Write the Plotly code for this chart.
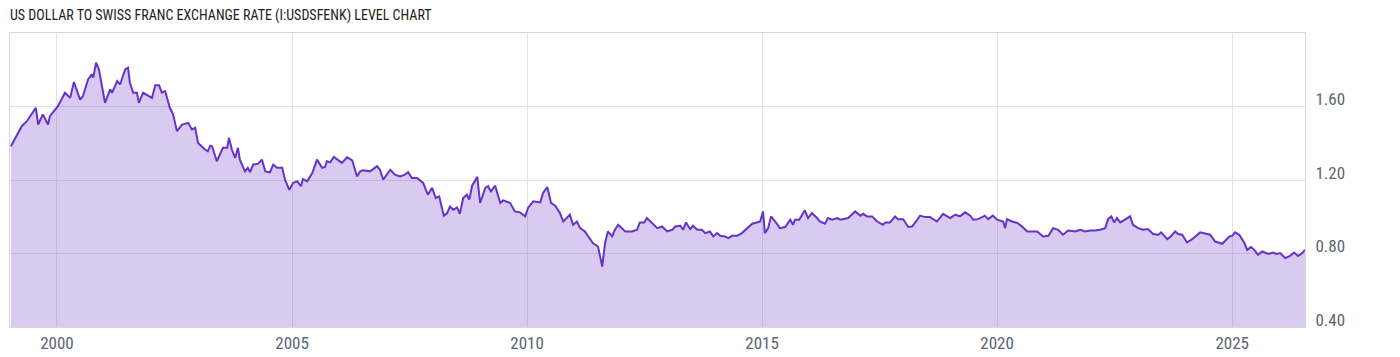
import plotly.graph_objects as go
import pandas as pd

# decimal-year dates and USD/CHF level values
years = [
1999.02,1999.11,1999.25,1999.36,1999.49,1999.55,1999.60,1999.70,1999.81,1999.85,
2000.02,2000.11,2000.17,2000.28,2000.36,2000.49,2000.55,2000.66,2000.74,2000.77,2000.83,2000.89,
2001.02,2001.13,2001.17,2001.28,2001.34,2001.45,2001.51,2001.55,2001.62,2001.70,2001.74,2001.83,2001.94,
2002.02,2002.09,2002.17,2002.23,2002.30,2002.40,2002.47,2002.55,2002.66,2002.79,2002.87,2002.94,
2003.00,2003.15,2003.21,2003.26,2003.30,2003.40,2003.53,2003.62,2003.66,2003.72,2003.79,2003.85,2003.89,
2004.00,2004.06,2004.11,2004.17,2004.28,2004.36,2004.43,2004.53,2004.60,2004.68,2004.79,2004.85,2004.94,
2005.02,2005.11,2005.19,2005.23,2005.32,2005.43,2005.53,2005.64,2005.70,2005.74,2005.81,2005.89,2005.98,
2006.06,2006.17,2006.28,2006.38,2006.45,2006.51,2006.66,2006.81,2006.87,2006.94,
2007.02,2007.09,2007.19,2007.30,2007.40,2007.47,2007.55,2007.66,2007.79,2007.89,2007.98,
2008.06,2008.13,2008.23,2008.30,2008.36,2008.43,2008.51,2008.57,2008.64,2008.72,2008.77,2008.83,2008.94,
2009.00,2009.11,2009.17,2009.23,2009.32,2009.43,2009.49,2009.64,2009.74,2009.85,2009.96,
2010.02,2010.13,2010.28,2010.34,2010.43,2010.51,2010.60,2010.70,2010.77,2010.91,2010.98,
2011.06,2011.13,2011.23,2011.34,2011.40,2011.51,2011.60,2011.66,2011.72,2011.81,2011.87,2011.94,
2012.02,2012.09,2012.23,2012.34,2012.40,2012.49,2012.55,2012.66,2012.77,2012.87,2012.98,
2013.09,2013.15,2013.26,2013.32,2013.38,2013.47,2013.53,2013.62,2013.72,2013.79,2013.89,2013.96,
2014.04,2014.11,2014.21,2014.28,2014.36,2014.47,2014.57,2014.68,2014.79,2014.89,2014.96,
2015.02,2015.06,2015.13,2015.19,2015.28,2015.38,2015.49,2015.60,2015.66,2015.70,2015.79,2015.91,2015.98,
2016.06,2016.17,2016.23,2016.34,2016.40,2016.49,2016.60,2016.66,2016.83,2016.98,
2017.09,2017.15,2017.23,2017.34,2017.45,2017.57,2017.62,2017.72,2017.83,2017.89,
2018.00,2018.11,2018.19,2018.26,2018.36,2018.47,2018.57,2018.72,2018.85,
2019.00,2019.11,2019.21,2019.32,2019.43,2019.49,2019.60,2019.74,2019.81,2019.91,
2020.00,2020.13,2020.17,2020.21,2020.32,2020.43,2020.53,2020.64,2020.74,2020.85,2020.98,
2021.09,2021.19,2021.30,2021.40,2021.51,2021.66,2021.77,2021.87,2021.98,
2022.09,2022.19,2022.30,2022.36,2022.43,2022.49,2022.55,2022.62,2022.72,2022.83,2022.89,
2023.00,2023.11,2023.21,2023.32,2023.43,2023.49,2023.62,2023.68,2023.79,2023.85,2023.94,
2024.04,2024.15,2024.32,2024.43,2024.53,2024.64,2024.79,2024.94,
2025.00,2025.06,2025.15,2025.26,2025.32,2025.40,2025.47,2025.55,2025.64,2025.77,2025.87,2025.94,
2026.02,2026.13,2026.23,2026.32,2026.40,2026.47,2026.55,
]
rates = [
1.384,1.43,1.493,1.52,1.575,1.593,1.502,1.557,1.502,1.547,
1.602,1.647,1.675,1.647,1.733,1.638,1.656,1.747,1.775,1.757,1.839,1.802,
1.62,1.693,1.675,1.738,1.72,1.802,1.811,1.729,1.675,1.675,1.62,1.675,1.656,
1.647,1.715,1.715,1.675,1.684,1.593,1.557,1.466,1.502,1.511,1.475,1.484,
1.402,1.366,1.356,1.387,1.384,1.302,1.375,1.375,1.429,1.366,1.32,1.375,1.311,
1.247,1.266,1.242,1.284,1.289,1.311,1.247,1.242,1.284,1.266,1.266,1.202,1.147,
1.184,1.193,1.166,1.206,1.193,1.238,1.311,1.266,1.271,1.302,1.296,1.326,1.311,
1.293,1.324,1.307,1.22,1.247,1.253,1.247,1.275,1.256,1.202,
1.229,1.256,1.229,1.22,1.229,1.242,1.211,1.211,1.184,1.12,1.157,
1.102,1.111,1.006,1.02,1.056,1.038,1.051,1.016,1.102,1.12,1.093,1.169,1.217,
1.075,1.157,1.166,1.138,1.169,1.075,1.089,1.075,1.029,1.024,1.002,
1.048,1.084,1.078,1.129,1.162,1.075,1.06,1.02,0.974,1.011,0.956,
0.974,0.938,0.92,0.875,0.857,0.838,0.729,0.857,0.92,0.893,0.929,0.956,
0.938,0.92,0.92,0.929,0.969,0.969,0.993,0.966,0.938,0.947,0.92,
0.929,0.947,0.951,0.929,0.969,0.933,0.951,0.929,0.929,0.911,0.92,0.893,
0.911,0.896,0.893,0.884,0.896,0.896,0.911,0.938,0.962,0.969,0.974,
1.029,0.911,0.938,1.002,0.974,0.938,0.944,0.984,0.956,0.984,0.984,1.035,0.993,
1.02,0.993,0.974,0.962,0.993,0.984,0.993,0.984,0.993,1.029,
1.006,1.016,1.002,1.002,0.974,0.956,0.969,0.969,1.002,0.987,
0.987,0.944,0.947,0.969,1.006,0.998,0.998,0.974,1.016,
0.993,1.011,1.002,1.024,1.006,0.984,0.987,1.006,0.987,1.006,
0.984,0.974,0.938,0.987,0.974,0.966,0.947,0.92,0.92,0.92,0.893,
0.896,0.938,0.929,0.902,0.925,0.92,0.929,0.92,0.925,
0.925,0.929,0.938,0.987,1.002,0.969,0.993,0.969,0.984,1.002,0.956,
0.938,0.929,0.933,0.906,0.902,0.915,0.878,0.889,0.92,0.906,0.902,
0.86,0.878,0.915,0.906,0.902,0.865,0.853,0.893,
0.896,0.915,0.902,0.857,0.82,0.835,0.82,0.793,0.811,0.798,0.805,0.798,
0.802,0.775,0.787,0.805,0.787,0.798,0.82,
]

y_ticks = [0.40, 0.80, 1.20, 1.60]
y_tick_text = ["0.40", "0.80", "1.20", "1.60"]
x_tick_years = [2000, 2005, 2010, 2015, 2020, 2025]


def to_date(y):
    yr = int(y)
    start = pd.Timestamp(year=yr, month=1, day=1)
    end = pd.Timestamp(year=yr + 1, month=1, day=1)
    return start + (end - start) * (y - yr)


dates = [to_date(y) for y in years]

FONT = "Liberation Sans Narrow, Roboto Condensed, Roboto, sans-serif"

fig = go.Figure()
fig.add_trace(go.Scatter(
    x=dates, y=rates, mode="lines",
    line=dict(color="#6633c9", width=2),
    fill="tozeroy", fillcolor="rgba(110,60,200,0.27)",
    hoverinfo="x+y",
))

fig.update_layout(
    width=1400, height=357,
    margin=dict(l=10, r=95, t=33, b=30),
    paper_bgcolor="white", plot_bgcolor="white",
    showlegend=False,
    title=dict(
        text="US DOLLAR TO SWISS FRANC EXCHANGE RATE (I:USDSFENK) LEVEL CHART",
        xref="container", yref="container", x=10/1400, xanchor="left",
        y=1 - 15/357, yanchor="middle",
        font=dict(family=FONT, size=14, color="#222222"),
    ),
    xaxis=dict(
        type="date",
        range=[to_date(1999.0), to_date(2026.55)],
        tickvals=[pd.Timestamp(year=y, month=1, day=1) for y in x_tick_years],
        ticktext=[str(y) for y in x_tick_years],
        showgrid=True, gridcolor="#e3e3e3", gridwidth=1,
        showline=True, linecolor="#d6d6d6", linewidth=1, mirror=True,
        ticks="", zeroline=False, automargin=False,
        ticklabelstandoff=1,
        tickfont=dict(family=FONT, size=17, color="#5a6570"),
    ),
    yaxis=dict(
        side="right",
        range=[0.40, 2.00],
        tickvals=y_ticks, ticktext=y_tick_text,
        showgrid=True, gridcolor="#e3e3e3", gridwidth=1,
        showline=True, linecolor="#d6d6d6", linewidth=1, mirror=True,
        ticks="", zeroline=False, automargin=False,
        ticklabelshift=-7, ticklabelstandoff=6,
        tickfont=dict(family=FONT, size=17, color="#5a6570"),
    ),
)

fig.write_html("out.html")
